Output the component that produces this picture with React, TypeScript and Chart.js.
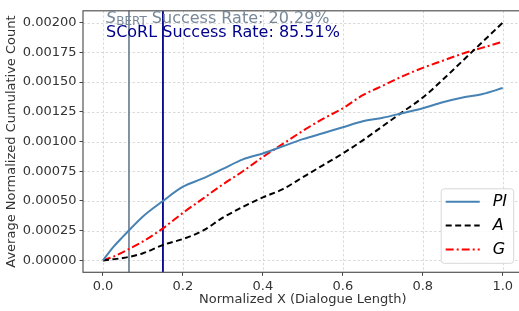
import React, { useEffect, useRef } from "react";
import { Chart, registerables } from "chart.js";

Chart.register(...registerables);

const xValues = [0, 0.025, 0.05, 0.1, 0.15, 0.2, 0.25, 0.3, 0.35, 0.4, 0.45, 0.5, 0.55, 0.6, 0.65, 0.7, 0.75, 0.8, 0.85, 0.9, 0.95, 1.0];
const piValues = [0, 0.00011, 0.0002, 0.00037, 0.0005, 0.00062, 0.00069, 0.00077, 0.00085, 0.0009, 0.00096, 0.00102, 0.00107, 0.00112, 0.00117, 0.0012, 0.00124, 0.00128, 0.00133, 0.00137, 0.0014, 0.00145];
const aValues = [0, 0.00001, 0.00002, 0.00006, 0.00013, 0.00018, 0.00025, 0.00036, 0.00045, 0.00053, 0.0006, 0.0007, 0.0008, 0.0009, 0.00101, 0.00113, 0.00125, 0.00137, 0.00152, 0.00168, 0.00184, 0.002];
const gValues = [0, 0.00003, 0.00007, 0.00016, 0.00027, 0.0004, 0.00052, 0.00064, 0.00075, 0.00087, 0.00098, 0.00109, 0.00119, 0.00128, 0.00139, 0.00147, 0.00155, 0.00162, 0.00168, 0.00174, 0.00179, 0.00184];

const seriesNames = ["PI", "A", "G"];
const xTicks = [0, 0.2, 0.4, 0.6, 0.8, 1.0];
const yTicks = [0, 0.00025, 0.0005, 0.00075, 0.001, 0.00125, 0.0015, 0.00175, 0.002];
const sbertMarker = 0.065;
const scorlMarker = 0.15;
const sbertRate = "20.29%";
const scorlRate = "85.51%";

const FONT = "'DejaVu Sans', sans-serif";
const SBERT_COLOR = "#778899";
const SCORL_COLOR = "#00008b";
const colors = ["#4682b4", "#000000", "#ff0000"];
const dashes = [[], [6, 3.5], [8, 3, 2, 3]];

const toPoints = (ys: number[]) => xValues.map((x, i) => ({ x, y: ys[i] }));

const overlayPlugin = {
  id: "overlay",
  beforeDatasetsDraw(chart: any) {
    const { ctx, chartArea, scales } = chart;
    ctx.save();
    // dashed grid
    ctx.strokeStyle = "#d0d0d0";
    ctx.lineWidth = 0.8;
    ctx.setLineDash([2.5, 2]);
    xTicks.forEach((v) => {
      const px = Math.round(scales.x.getPixelForValue(v)) + 0.5;
      ctx.beginPath();
      ctx.moveTo(px, chartArea.top);
      ctx.lineTo(px, chartArea.bottom);
      ctx.stroke();
    });
    yTicks.forEach((v) => {
      const py = Math.round(scales.y.getPixelForValue(v)) + 0.5;
      ctx.beginPath();
      ctx.moveTo(chartArea.left, py);
      ctx.lineTo(chartArea.right, py);
      ctx.stroke();
    });
    ctx.setLineDash([]);
    const drawV = (v: number, color: string) => {
      const px = scales.x.getPixelForValue(v);
      ctx.strokeStyle = color;
      ctx.lineWidth = 1.8;
      ctx.beginPath();
      ctx.moveTo(px, chartArea.top);
      ctx.lineTo(px, chartArea.bottom);
      ctx.stroke();
    };
    drawV(sbertMarker, SBERT_COLOR);
    drawV(scorlMarker, SCORL_COLOR);
    ctx.restore();
  },
  afterDatasetsDraw(chart: any) {
    const { ctx, chartArea } = chart;
    ctx.save();
    // frame
    ctx.strokeStyle = "#555";
    ctx.lineWidth = 1.2;
    ctx.setLineDash([]);
    ctx.strokeRect(chartArea.left, chartArea.top, chartArea.right - chartArea.left, chartArea.bottom - chartArea.top);

    // annotation texts
    const tx = chartArea.left + 23;
    const b1 = chartArea.top + 12;
    const b2 = chartArea.top + 26.5;
    ctx.textBaseline = "alphabetic";
    ctx.textAlign = "left";
    ctx.fillStyle = SBERT_COLOR;
    ctx.font = `italic 16px ${FONT}`;
    ctx.fillText("S", tx, b1);
    let cx = tx + ctx.measureText("S").width;
    ctx.font = `12px ${FONT}`;
    ctx.fillText("BERT", cx, b1 + 2);
    cx += ctx.measureText("BERT").width;
    ctx.font = `16px ${FONT}`;
    ctx.fillText(" Success Rate: " + sbertRate, cx, b1);
    ctx.fillStyle = SCORL_COLOR;
    ctx.fillText("SCoRL Success Rate: " + scorlRate, tx, b2);

    // legend
    const lw = 72.5;
    const lh = 74.5;
    const lx = chartArea.right - 9.5 - lw;
    const ly = chartArea.bottom - 9.5 - lh;
    ctx.fillStyle = "rgba(255,255,255,0.85)";
    ctx.strokeStyle = "#d8d8d8";
    ctx.lineWidth = 1;
    ctx.beginPath();
    ctx.roundRect(lx + 0.5, ly + 0.5, lw, lh, 3);
    ctx.fill();
    ctx.stroke();
    seriesNames.forEach((name, i) => {
      const y = ly + 13.5 + i * 23.8;
      ctx.strokeStyle = colors[i];
      ctx.lineWidth = 2;
      ctx.setLineDash(dashes[i]);
      ctx.beginPath();
      ctx.moveTo(lx + 5, y);
      ctx.lineTo(lx + 39, y);
      ctx.stroke();
      ctx.setLineDash([]);
      ctx.fillStyle = "#000";
      ctx.font = `italic 16px ${FONT}`;
      ctx.textBaseline = "middle";
      ctx.fillText(name, lx + 52, y);
    });
    ctx.restore();
  },
};

export default function App() {
  const ref = useRef<HTMLCanvasElement | null>(null);
  useEffect(() => {
    if (!ref.current) return;
    const datasets = [piValues, aValues, gValues].map((vals, i) => ({
      label: seriesNames[i],
      data: toPoints(vals),
      borderColor: colors[i],
      backgroundColor: colors[i],
      borderWidth: 2,
      borderDash: dashes[i],
      pointRadius: 0,
      cubicInterpolationMode: "monotone",
      fill: false,
    }));
    const tickFont = { family: FONT, size: 13 };
    const gridOpts = {
      display: true,
      drawOnChartArea: false,
      drawTicks: true,
      color: "#444",
      lineWidth: 1,
      tickLength: 3.5,
      tickColor: "#444",
      tickWidth: 1,
    };
    const chart = new Chart(ref.current, {
      type: "line",
      data: { datasets },
      options: {
        responsive: false,
        animation: false,
        devicePixelRatio: 1,
        layout: { padding: { top: 4, right: 1.3, left: 0, bottom: 0 } },
        plugins: { legend: { display: false }, tooltip: { enabled: false } },
        scales: {
          x: {
            type: "linear",
            min: -0.05,
            max: 1.05,
            afterBuildTicks: (s: any) => {
              s.ticks = xTicks.map((v) => ({ value: v }));
            },
            afterFit: (s: any) => {
              s.height = 38.7;
            },
            ticks: {
              font: tickFont,
              color: "#333",
              padding: 3,
              callback: (v: any) => Number(v).toFixed(1),
            },
            grid: gridOpts,
            border: { display: false },
            title: {
              display: true,
              text: "Normalized X (Dialogue Length)",
              font: { family: FONT, size: 13 },
              color: "#333",
              padding: { top: 0, bottom: 4 },
            },
          },
          y: {
            type: "linear",
            min: -0.0001,
            max: 0.0021,
            afterBuildTicks: (s: any) => {
              s.ticks = yTicks.map((v) => ({ value: v }));
            },
            afterFit: (s: any) => {
              s.width = 83;
            },
            ticks: {
              font: tickFont,
              color: "#333",
              padding: 3,
              callback: (v: any) => Number(v).toFixed(5),
            },
            grid: gridOpts,
            border: { display: false },
            title: {
              display: true,
              text: "Average Normalized Cumulative Count",
              font: { family: FONT, size: 13 },
              color: "#333",
              padding: { top: 4, bottom: 0 },
            },
          },
        },
      },
      plugins: [overlayPlugin],
    } as any);
    return () => chart.destroy();
  }, []);
  return (
    <div style={{ position: "fixed", left: 0, top: 0, width: 519, height: 311, overflow: "hidden", background: "#fff" }}>
      <canvas ref={ref} width={524} height={311} style={{ display: "block", width: 524, height: 311 }} />
    </div>
  );
}
